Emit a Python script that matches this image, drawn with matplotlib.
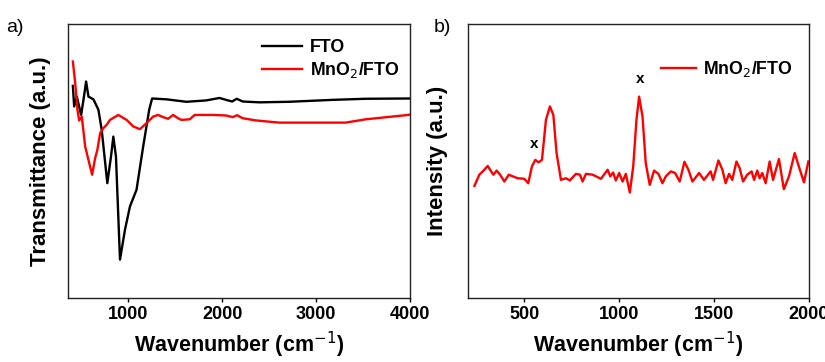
import matplotlib
matplotlib.use("Agg")
import matplotlib.pyplot as plt

# ---- panel a) FTIR ----
fto_wn = [410, 424, 452, 498, 523, 551, 576, 629, 682, 717, 777, 816, 841, 869,
          912, 965, 1018, 1088, 1159, 1223, 1254, 1406, 1618, 1830, 1972, 2042,
          2106, 2155, 2219, 2396, 2714, 3173, 3527, 3979, 4000]
fto_t = [77.4, 69.9, 73.5, 66.8, 72.3, 79.0, 73.5, 72.5, 68.7, 61.4, 41.9, 51.6,
         58.9, 51.6, 14.0, 24.9, 33.4, 39.5, 55.3, 68.7, 72.8, 72.5, 71.6, 72.1,
         73.0, 72.3, 71.7, 72.7, 71.7, 71.4, 71.6, 72.3, 72.7, 72.8, 72.8]

mno2_wn = [410, 435, 459, 477, 505, 541, 576, 615, 647, 671, 700, 735, 770, 806,
           894, 982, 1053, 1124, 1194, 1265, 1318, 1371, 1424, 1477, 1530, 1565,
           1654, 1707, 1901, 2042, 2113, 2159, 2219, 2360, 2608, 3314, 3527, 3979, 4000]
mno2_t = [86.3, 78.4, 68.7, 64.8, 66.2, 55.3, 50.4, 45.0, 51.0, 54.1, 60.1, 62.0,
          63.2, 65.0, 66.8, 65.0, 62.6, 61.6, 63.8, 66.2, 66.8, 66.0, 65.4, 66.8,
          65.6, 65.0, 65.2, 66.8, 66.8, 66.6, 66.0, 66.7, 65.6, 64.8, 64.0, 64.0,
          65.2, 66.8, 66.9]

# ---- panel b) Raman ----
raman_wn = [237, 263, 289, 307, 325, 337, 354, 372, 395, 418, 439, 465, 500, 521,
            540, 558, 575, 593, 614, 635, 653, 670, 693, 719, 740, 772, 793, 807,
            825, 860, 904, 939, 953, 968, 982, 1000, 1018, 1035, 1056, 1074, 1091,
            1105, 1123, 1140, 1161, 1184, 1207, 1228, 1246, 1272, 1295, 1319, 1344,
            1365, 1386, 1421, 1447, 1482, 1495, 1523, 1544, 1561, 1579, 1596, 1618,
            1635, 1653, 1675, 1698, 1711, 1728, 1740, 1754, 1772, 1793, 1811, 1842,
            1868, 1895, 1925, 1947, 1974, 1997]
raman_i = [40.9, 45.0, 46.8, 48.2, 46.2, 45.0, 46.5, 45.0, 42.5, 45.0, 44.4, 43.7,
           43.5, 41.9, 48.0, 50.4, 49.5, 50.4, 65.0, 69.9, 66.8, 52.9, 43.1, 43.7,
           42.9, 45.3, 45.0, 42.5, 45.3, 45.0, 43.5, 46.8, 44.4, 45.8, 42.9, 45.6,
           42.5, 45.3, 38.5, 48.0, 65.0, 73.5, 66.2, 49.2, 41.3, 46.5, 45.3, 41.9,
           44.4, 46.2, 45.6, 42.5, 49.7, 46.8, 42.5, 45.6, 43.1, 46.2, 43.1, 50.2,
           46.8, 41.9, 45.3, 43.1, 49.8, 47.4, 42.5, 45.0, 46.2, 43.1, 46.5, 43.7,
           45.6, 41.9, 49.8, 43.1, 50.7, 39.7, 44.4, 52.9, 48.0, 42.2, 49.8]

# positions of the "x" marks (wavenumber, height)
x_marks_wn = [553, 1109]
x_marks_i = [53.5, 77.4]

plt.rcParams['font.family'] = ['Liberation Sans', 'DejaVu Sans']

fig = plt.figure(figsize=(8.25, 3.62), dpi=100)
ax1 = fig.add_axes([0.0824, 0.1768, 0.4145, 0.757])
ax2 = fig.add_axes([0.567, 0.1768, 0.4135, 0.757])

ax1.plot(fto_wn, fto_t, color='black', lw=1.7, label='FTO')
ax1.plot(mno2_wn, mno2_t, color='#ff0000', lw=1.7, label='MnO$_2$/FTO')
ax1.set_xlim(358, 4000)
ax1.set_ylim(0, 100)
ax1.set_xticks([1000, 2000, 3000, 4000])
ax1.set_xlabel('Wavenumber (cm$^{-1}$)', fontsize=15.5, fontweight='bold', labelpad=5)
ax1.set_ylabel('Transmittance (a.u.)', fontsize=16, fontweight='bold', labelpad=12)
ax1.legend(loc='upper right', bbox_to_anchor=(1.0, 0.985), frameon=False,
           prop={'weight': 'bold', 'size': 12.8}, handlelength=2.3,
           handletextpad=0.4, borderaxespad=0.2, labelspacing=0.25)

ax2.plot(raman_wn, raman_i, color='#ff0000', lw=1.7, label='MnO$_2$/FTO')
for wn, h in zip(x_marks_wn, x_marks_i):
    ax2.text(wn, h, 'x', ha='center', va='bottom', fontsize=11, fontweight='bold')
ax2.set_xlim(202, 2000)
ax2.set_ylim(0, 100)
ax2.set_xticks([500, 1000, 1500, 2000])
ax2.set_xlabel('Wavenumber (cm$^{-1}$)', fontsize=15.5, fontweight='bold', labelpad=5)
ax2.set_ylabel('Intensity (a.u.)', fontsize=16, fontweight='bold', labelpad=14)
ax2.legend(loc='upper right', bbox_to_anchor=(0.985, 0.91), frameon=False,
           prop={'weight': 'bold', 'size': 12.8}, handlelength=2.0,
           handletextpad=0.4, borderaxespad=0.2)

for ax in (ax1, ax2):
    ax.set_yticks([])
    ax.tick_params(axis='x', direction='out', length=3, width=1, labelsize=13, pad=3)
    for lbl in ax.get_xticklabels():
        lbl.set_fontweight('bold')
    for sp in ax.spines.values():
        sp.set_linewidth(1.0)
        sp.set_color('#222222')

fig.text(0.008, 0.925, 'a)', fontsize=14, va='center', ha='left')
fig.text(0.526, 0.925, 'b)', fontsize=14, va='center', ha='left')

fig.savefig('out.png', dpi=100)
